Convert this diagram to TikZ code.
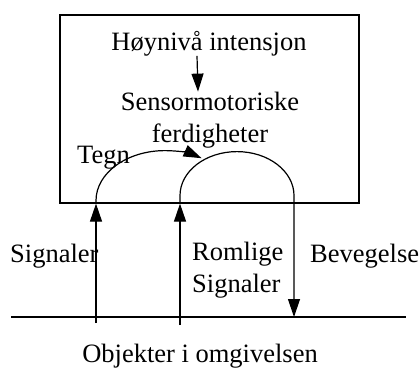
\documentclass[tikz,border=0pt]{standalone}
\usepackage{fontspec}
\setmainfont{Liberation Serif}
\usepackage{tikz}
\usetikzlibrary{arrows.meta, positioning, calc}

\begin{document}
\begin{tikzpicture}[
    x=1pt, y=-1pt,
    txt/.style={
        font=\fontsize{26.5}{31.8}\selectfont,
        inner sep=0pt,
        anchor=base
    },
    frame/.style={
        rectangle,
        draw,
        line width=1.2pt,
        minimum width=299pt,
        minimum height=188pt,
        inner sep=0pt
    },
    arrow/.style={
        -{Triangle[length=18pt,width=12pt]},
        line width=1.2pt
    },
    ground/.style={
        line width=1.2pt
    }
]
\useasboundingbox (0,0) rectangle (419,368);

% Agent
\node[frame] (agent) at (209.5,109) {};
\node[txt] (intent) at (209,50) {Høynivå intensjon};
\node[txt, align=center] (skills) at (210,142) {Sensormotoriske\\ferdigheter};
\draw[arrow] ([xshift=-12pt]intent.south) -- ([xshift=-12pt]skills.north);

% Environment
\coordinate (groundL) at (11,317);
\coordinate (groundR) at (406,317);
\draw[ground] (groundL) -- (groundR);
\node[txt] (objects) at (200,362) {Objekter i omgivelsen};

% Signals in
\coordinate (sigA) at (96,323);
\coordinate (sigB) at (180,325);
\coordinate (moveEnd) at (294,317);
\draw[arrow] (sigA) -- (sigA |- agent.south);
\draw[arrow] (sigB) -- (sigB |- agent.south);

% Loops
\draw[arrow] (sigA |- agent.south) -- ++(0,-3)
    arc[start angle=180, end angle=302, x radius=69, y radius=50];
\draw[arrow] (sigB |- agent.south) -- ++(0,-8)
    arc[start angle=180, end angle=360, x radius=57, y radius=44] -- (moveEnd);

% Labels
\node[txt, anchor=base west] (tegn) at (77,163) {Tegn};
\node[txt, anchor=base west] (signals) at (10,262) {Signaler};
\node[txt, anchor=base west, align=left] (spatial) at (192,292) {Romlige\\Signaler};
\node[txt, anchor=base west] (motion) at (310,262) {Bevegelse};

\end{tikzpicture}
\end{document}
